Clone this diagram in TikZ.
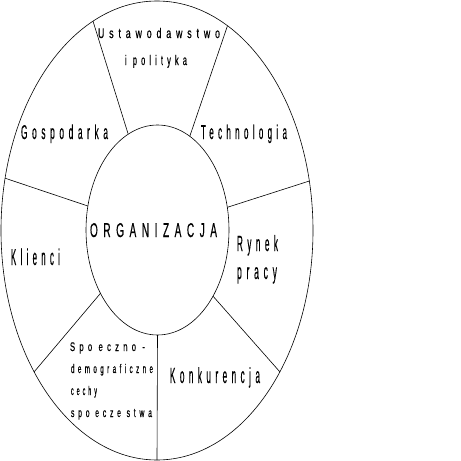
\documentclass[tikz,border=0pt]{standalone}
\usepackage{fontspec}
\setmainfont{Liberation Sans}
\newfontfamily\lsf[LetterSpace=55,FakeBold=0.6]{Liberation Sans}
\usetikzlibrary{shapes.geometric}
\newcommand\fitw[3]{{\fontsize{#2}{#2}\selectfont\lsf\resizebox{#1}{\height}{#3}}}
\begin{document}
\begin{tikzpicture}[x=1pt,y=-1pt,
  lbl/.style={anchor=base west, inner sep=0pt, outer sep=0pt},
  ln/.style={draw=black, line width=0.6pt},
  ell/.style={ellipse, ln, inner sep=0pt, outer sep=0pt}]
\useasboundingbox (0,0) rectangle (461,461);
\node[ell, minimum width=312pt, minimum height=459pt] (outer) at (157,230.5) {};
\node[ell, minimum width=143pt, minimum height=210pt] (inner) at (157.5,230) {};
\foreach \a/\b in {107.5/107.5, 71.5/71.5, 161/161, 18.5/18.8, 228.5/229.2, 310.5/311, 270/270}
  \draw[ln] (inner.\a) -- (outer.\b);
\node[lbl] (ust) at (98,38) {\fitw{122pt}{14}{Ustawodawstwo}};
\node[lbl] (pol) at (125,65) {\fitw{62pt}{14}{i polityka}};
\node[lbl] (gos) at (21,139) {\fitw{87pt}{20}{Gospodarka}};
\node[lbl] (tec) at (201,139) {\fitw{86pt}{20}{Technologia}};
\node[lbl] (org) at (90,237) {\fitw{127pt}{20}{ORGANIZACJA}};
\node[lbl] (kli) at (11,265) {\fitw{49pt}{23}{Klienci}};
\node[lbl] (ryn) at (237,251) {\fitw{41pt}{22}{Rynek}};
\node[lbl] (pra) at (237,279) {\fitw{40pt}{22}{pracy}};
\node[lbl] (kon) at (170,383) {\fitw{90pt}{22}{Konkurencja}};
\node[lbl] (sp1) at (70,351) {\fitw{75pt}{12.5}{Spo eczno -}};
\node[lbl] (sp2) at (71,373) {\fitw{82pt}{12.5}{demograficzne}};
\node[lbl] (sp3) at (71,395) {\fitw{26pt}{12.5}{cechy}};
\node[lbl] (sp4) at (71,417) {\fitw{81pt}{12.5}{spo ecze stwa}};
\end{tikzpicture}
\end{document}
